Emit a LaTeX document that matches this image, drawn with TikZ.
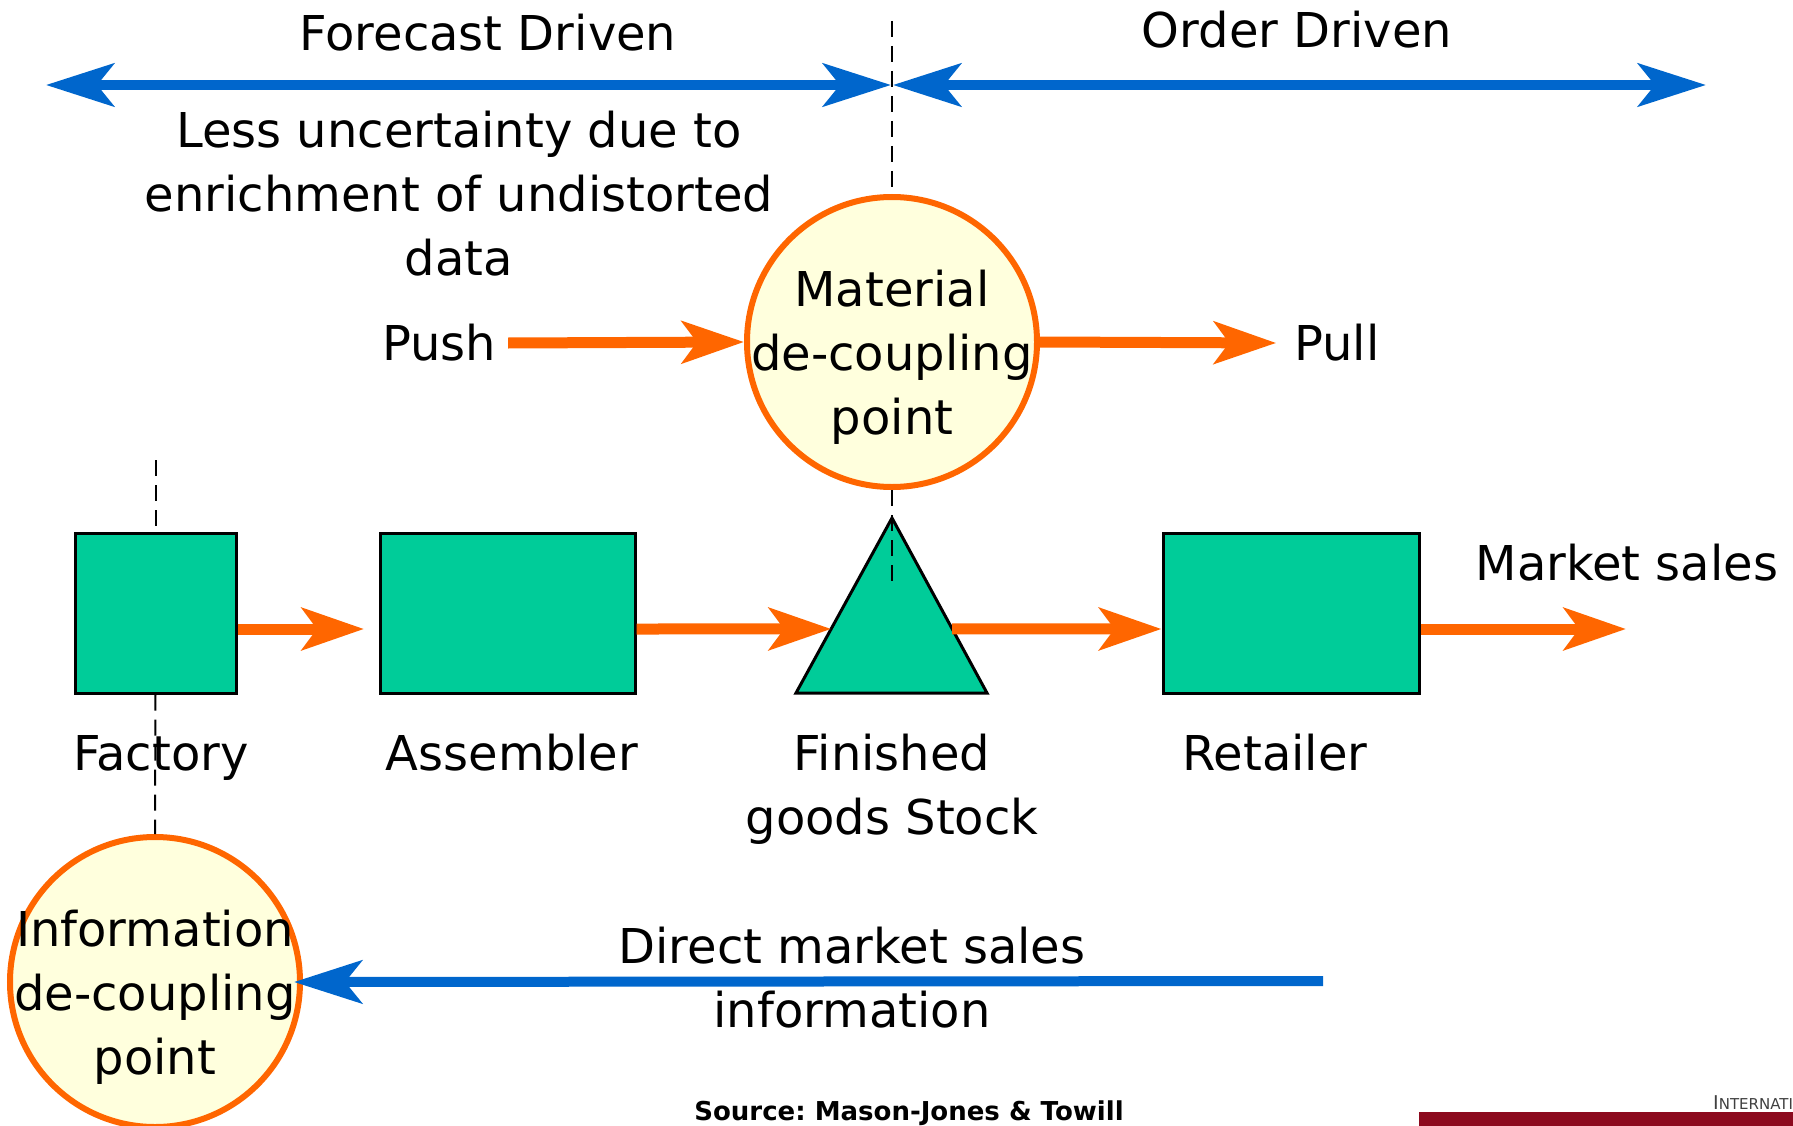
\documentclass[tikz,border=0pt]{standalone}
\usepackage{fontspec}
\setmainfont{DejaVu Sans}
\usetikzlibrary{arrows.meta,positioning,calc}

\definecolor{floworange}{HTML}{FF6600}
\definecolor{infoblue}{HTML}{0066CC}
\definecolor{stagegreen}{HTML}{00CC99}
\definecolor{pointfill}{HTML}{FFFFDD}
\definecolor{barred}{HTML}{8C0A1E}

\tikzset{
	flow/.style={draw=floworange, line width=11pt, -{Stealth[length=62pt,width=42pt,inset=15pt]}},
	info/.style={draw=infoblue, line width=10pt, -{Stealth[length=68pt,width=43pt,inset=17pt]}},
	span/.style={info, {Stealth[length=68pt,width=43pt,inset=17pt]}-{Stealth[length=68pt,width=43pt,inset=17pt]}},
	cut/.style={draw=black, line width=2pt, dash pattern=on 16pt off 9pt},
	stagefill/.style={draw=black, fill=stagegreen, line width=3pt},
	stage/.style={stagefill, minimum height=160pt, inner sep=0pt},
	decouple/.style={circle, draw=floworange, fill=pointfill, line width=6pt, minimum size=290pt, inner sep=0pt},
	lbl/.style={font=\fontsize{48}{64}\selectfont, align=center, inner sep=12pt},
	inlbl/.style={lbl, inner sep=0pt, yshift=-15pt},
}

\begin{document}
\begin{tikzpicture}[x=1pt, y=-1pt]
	\useasboundingbox (0,0) rectangle (1793,1126);

	% top: forecast / order driven spans
	\coordinate (fdL) at (46,85);
	\coordinate (split) at (891,85);
	\coordinate (odR) at (1706,85);
	\coordinate (cutTop) at (892,21);
	\node[lbl] (forecast) at (488,33) {Forecast Driven};
	\node[lbl] (order) at (1297,30) {Order Driven};
	\node[lbl] (uncertain) at (459,194) {Less uncertainty due to\\enrichment of undistorted\\data};

	% stock triangle
	\coordinate (apex) at (892,518);
	\coordinate (baseL) at (796,693);
	\coordinate (baseR) at (987,693);
	\coordinate (cutLow) at (892,581);
	\draw[stagefill, line join=miter] (apex) -- (baseL) -- (baseR) -- cycle;

	% material de-coupling point
	\node[decouple, label={[inlbl]center:{Material\\de-coupling\\point}}] (mdp) at (892,342) {};
	\draw[cut] (cutTop) -- (mdp.north);
	\draw[cut] (mdp.south) -- (cutLow);
	\draw[span] (fdL) -- (split);
	\draw[span] ($(split)+(2,0)$) -- (odR);

	\node[lbl] (push) at (439,343) {Push};
	\node[lbl] (pull) at (1337,343) {Pull};
	\draw[flow] (push.east) -- (mdp.west);
	\draw[flow, shorten >=6pt] (mdp.east) -- (pull.west);

	% supply chain stages
	\node[stage, minimum width=161pt] (factory) at (155.5,613) {};
	\node[stage, minimum width=255pt] (assembler) at (507.5,613) {};
	\node[stage, minimum width=256pt] (retailer) at (1291,613) {};

	\coordinate (a1) at (364,629);
	\coordinate (a2) at ($(apex)!0.634!(baseL)$);
	\coordinate (a3) at ($(apex)!0.634!(baseR)$);
	\coordinate (sold) at (1626,629);
	\draw[flow] (factory.east |- a1) -- (a1);
	\draw[flow] (assembler.east |- a1) -- (a2);
	\draw[flow] (a3) -- (retailer.west |- a1);
	\draw[flow] (retailer.east |- a1) -- (sold);

	\node[lbl] (market) at (1627,563) {Market sales};
	\node[lbl, anchor=base] (factorylbl) at (161,770) {Factory};
	\node[lbl, anchor=base] (assemblerlbl) at (512,770) {Assembler};
	\node[lbl, anchor=base] (stocklbl) at (892,834) {Finished\\goods Stock};
	\node[lbl, anchor=base] (retailerlbl) at (1275,770) {Retailer};

	% information de-coupling point
	\node[decouple, label={[inlbl]center:{Information\\de-coupling\\point}}] (idp) at (155,982) {};
	\coordinate (facTop) at (155.5,460);
	\draw[cut] (facTop) -- (factory.north);
	\draw[cut] (factory.south) -- (idp.north);

	\coordinate (salesSrc) at (1323,981);
	\draw[info, shorten >=-9pt] (salesSrc) -- (idp.east);
	\node[lbl] (direct) at (852,978) {Direct market sales\\information};

	% footer
	\node[font=\fontsize{26}{30}\selectfont\bfseries] (source) at (909,1113) {Source:\ Mason-Jones \& Towill};
	\fill[barred] (1419,1112) rectangle (1793,1126);
	\node[anchor=base west, inner sep=0pt, text=black!75] (inst) at (1713,1109)
		{{\fontsize{19}{20}\selectfont I}{\fontsize{15}{16}\selectfont NTERNATIONAL}};
\end{tikzpicture}
\end{document}
